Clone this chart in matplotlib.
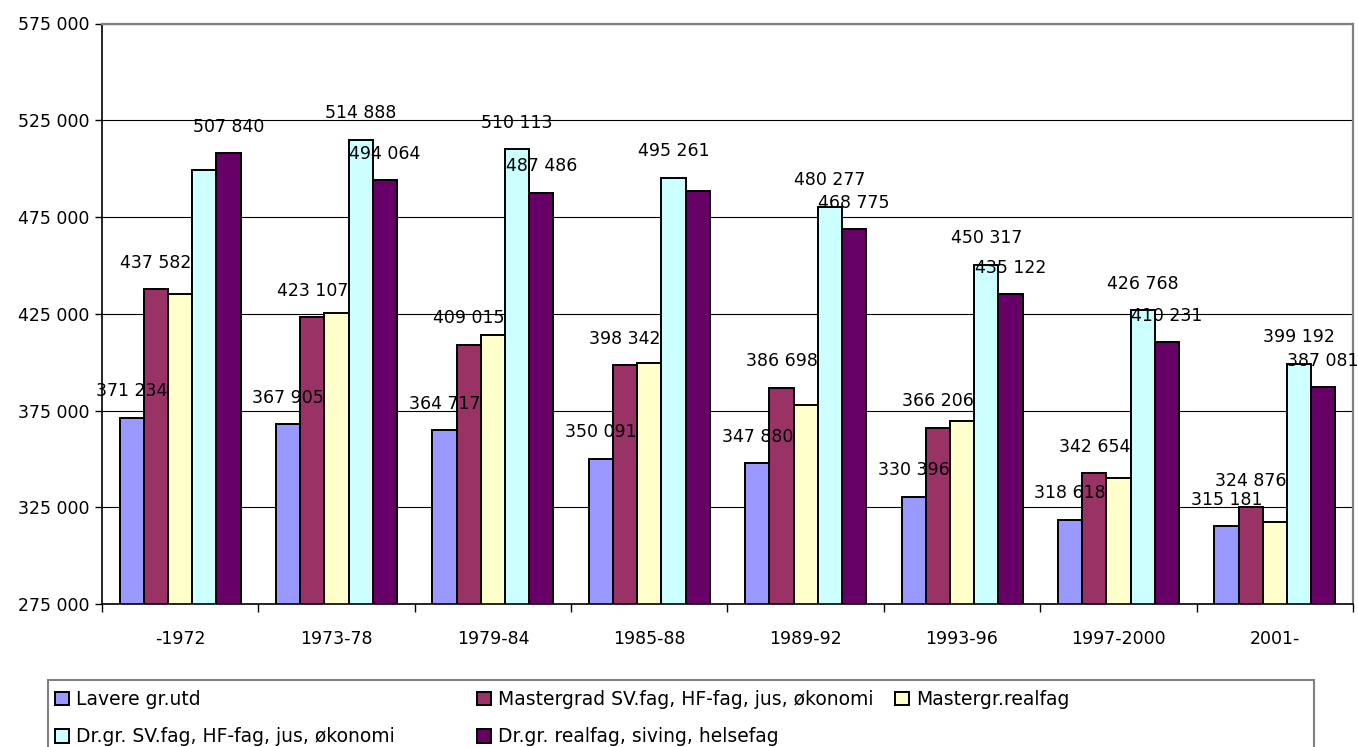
import numpy as np
import matplotlib.pyplot as plt
from matplotlib.patches import Rectangle
from matplotlib.ticker import FuncFormatter

plt.rcParams['font.family'] = ['DejaVu Sans']
plt.rc('font', size=12.5)

# Data
perioder = ["-1972", "1973-78", "1979-84", "1985-88", "1989-92", "1993-96", "1997-2000", "2001-"]
serier = ["Lavere gr.utd",
          "Mastergrad SV.fag, HF-fag, jus, økonomi",
          "Mastergr.realfag",
          "Dr.gr. SV.fag, HF-fag, jus, økonomi",
          "Dr.gr. realfag, siving, helsefag"]
farger = ["#9999FF", "#993366", "#FFFFCC", "#CCFFFF", "#660066"]

lavere      = [371234, 367905, 364717, 350091, 347880, 330396, 318618, 315181]
master      = [437582, 423107, 409015, 398342, 386698, 366206, 342654, 324876]
master_real = [435150, 425500, 414150, 399300, 377950, 369500, 340200, 317200]
dr_sv       = [499300, 514888, 510113, 495261, 480277, 450317, 426768, 399192]
dr_real     = [507840, 494064, 487486, 488400, 468775, 435122, 410231, 387081]

# hvilke tall som vises som etiketter
vis_lavere      = [1, 1, 1, 1, 1, 1, 1, 1]
vis_master      = [1, 1, 1, 1, 1, 1, 1, 1]
vis_master_real = [0, 0, 0, 0, 0, 0, 0, 0]
vis_dr_sv       = [0, 1, 1, 1, 1, 1, 1, 1]
vis_dr_real     = [1, 1, 1, 0, 1, 1, 1, 1]

verdier = [lavere, master, master_real, dr_sv, dr_real]
vis = [vis_lavere, vis_master, vis_master_real, vis_dr_sv, vis_dr_real]

def tall(v):
	return f"{v:,.0f}".replace(",", " ")

W, H = 1358, 747
fig = plt.figure(figsize=(W / 100, H / 100), dpi=100)
ax = fig.add_axes([102 / W, 1 - 604 / H, (1353 - 102) / W, (604 - 23.5) / H])

x = np.arange(len(perioder))
b = 0.1547
stolper = []
for j in range(5):
	s = ax.bar(x + (j - 2) * b, verdier[j], b, color=farger[j], edgecolor="black",
			   linewidth=1.4, label=serier[j], zorder=2)
	stolper.append(s)
	for i in range(len(perioder)):
		if vis[j][i]:
			ax.annotate(tall(verdier[j][i]), (x[i] + (j - 2) * b, verdier[j][i]),
						xytext=(0, 19), textcoords="offset points",
						ha="center", va="center", zorder=5)

# Akser
ax.set_ylim(275000, 575000)
ax.set_yticks(np.arange(275000, 575001, 50000))
ax.yaxis.set_major_formatter(FuncFormatter(lambda v, p: tall(v)))
ax.yaxis.grid(True, color="black", linewidth=0.8)
ax.set_axisbelow(True)
ax.tick_params(axis="y", length=5, width=1, pad=4)

ax.set_xlim(-0.5, len(perioder) - 0.5)
ax.set_xticks(np.arange(len(perioder) + 1) - 0.5)
ax.set_xticklabels([])
ax.set_xticks(x, minor=True)
ax.set_xticklabels(perioder, minor=True)
ax.tick_params(axis="x", which="major", length=6, width=1)
ax.tick_params(axis="x", which="minor", length=0, pad=19)

for k in ["top", "right"]:
	ax.spines[k].set_color("#808080")
	ax.spines[k].set_linewidth(1.6)
for k in ["left", "bottom"]:
	ax.spines[k].set_color("black")
	ax.spines[k].set_linewidth(1.2)

# Forklaring, tre kolonner
kolonner = [([0, 3], 55), ([1, 4], 477), ([2], 895)]
for idx, xp in kolonner:
	lg = fig.legend([stolper[i] for i in idx], [serier[i] for i in idx],
					loc="upper left", bbox_to_anchor=(xp / W, 1 - 690 / H),
					frameon=False, borderpad=0, borderaxespad=0, fontsize=13.5,
					handlelength=0.75, handleheight=0.75, handletextpad=0.37,
					labelspacing=0.97)
ramme = Rectangle((48 / W, 1 - 765 / H), (1314 - 48) / W, (765 - 680) / H,
				  transform=fig.transFigure, fill=False, edgecolor="#808080", linewidth=1.5)
fig.add_artist(ramme)

plt.savefig("out.png", dpi=100)
